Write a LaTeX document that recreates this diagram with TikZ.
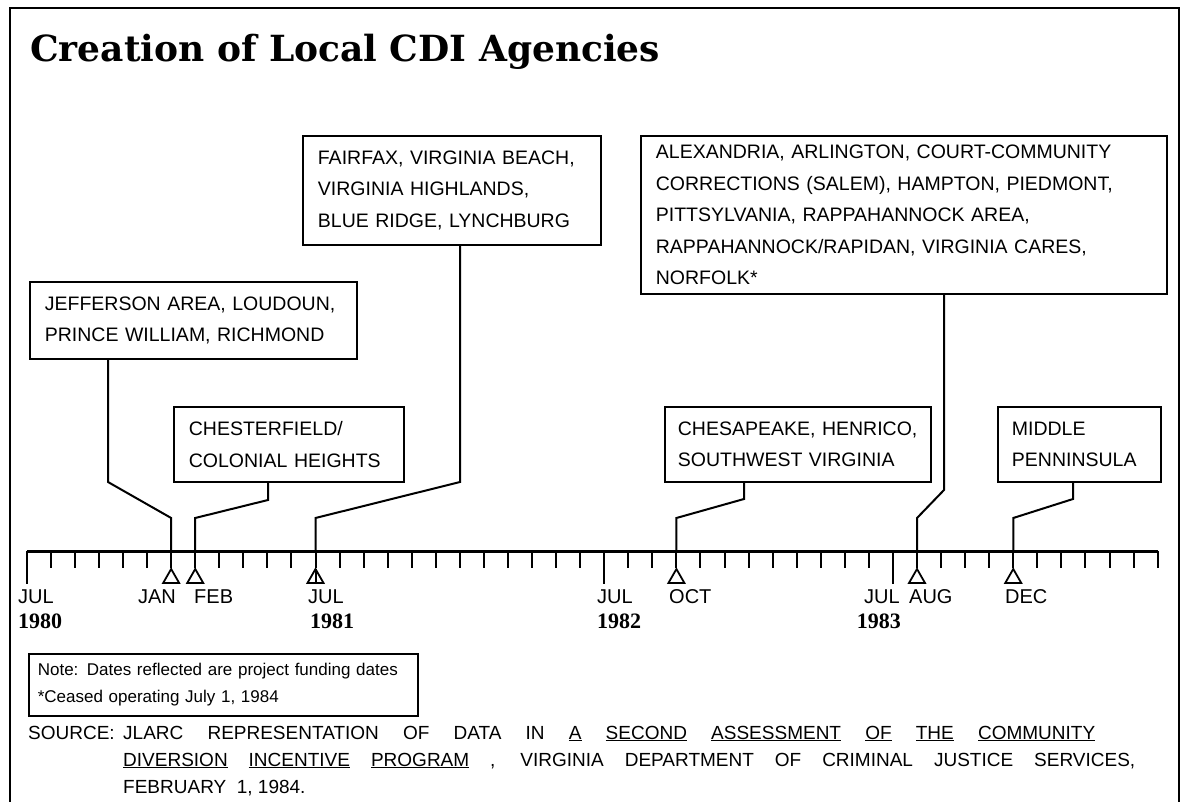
\documentclass[tikz,border=0pt]{standalone}
\usepackage{fontspec}
\setmainfont{Liberation Sans}
\newfontfamily\titlefont{DejaVu Serif}
\newfontfamily\yearfont{Liberation Serif}
\begin{document}
\begin{tikzpicture}[x=1pt,y=-1pt,
  abox/.style={draw,line width=1.8pt,anchor=north west,align=left,inner xsep=15pt,inner ysep=0pt,font=\fontsize{19.5}{31.5}\selectfont},
  conn/.style={line width=2pt},
  tickmark/.style={line width=2pt},
  tri/.style={line width=1.8pt,fill=white},
  mlab/.style={anchor=base west,inner sep=0pt,font=\fontsize{20}{24}\selectfont},
  mlabr/.style={anchor=base east,inner sep=0pt,font=\fontsize{20}{24}\selectfont},
  ylab/.style={anchor=base west,inner sep=0pt,font=\yearfont\bfseries\fontsize{22}{26}\selectfont},
  ylabr/.style={anchor=base east,inner sep=0pt,font=\yearfont\bfseries\fontsize{22}{26}\selectfont},
  src/.style={anchor=base west,inner sep=0pt,font=\fontsize{19}{22}\selectfont},
]
\useasboundingbox (0,0) rectangle (1186,802);
\draw[line width=2.5pt] (10,802) -- (10,8) -- (1179,8) -- (1179,802);
\node[anchor=base west,inner sep=0pt,font=\titlefont\bfseries\fontsize{36}{40}\selectfont] (title) at (30,62) {Creation of Local CDI Agencies};

% boxes
\node[abox,text width=268pt,minimum height=109pt] (fair) at (302,135) {FAIRFAX, VIRGINIA BEACH,\\VIRGINIA HIGHLANDS,\\BLUE RIDGE, LYNCHBURG};
\node[abox,text width=496pt,minimum height=158pt] (alex) at (640,135) {ALEXANDRIA, ARLINGTON, COURT-COMMUNITY\\CORRECTIONS (SALEM), HAMPTON, PIEDMONT,\\PITTSYLVANIA, RAPPAHANNOCK AREA,\\RAPPAHANNOCK/RAPIDAN, VIRGINIA CARES,\\NORFOLK{*}};
\node[abox,text width=297pt,minimum height=77pt] (jeff) at (29,281) {JEFFERSON AREA, LOUDOUN,\\PRINCE WILLIAM, RICHMOND};
\node[abox,text width=200pt,minimum height=75pt] (ches) at (173,406) {CHESTERFIELD/\\COLONIAL HEIGHTS};
\node[abox,inner xsep=13pt,text width=240pt,minimum height=75pt] (chsp) at (664,406) {CHESAPEAKE, HENRICO,\\SOUTHWEST VIRGINIA};
\node[abox,inner xsep=14pt,text width=135pt,minimum height=75pt] (midp) at (997,406) {MIDDLE\\PENNINSULA};

% axis
\def\xo{26.8}
\def\ms{24.06}
\coordinate (a0) at (\xo,551);
\coordinate (a47) at ({\xo+47*\ms},551);
\draw[line width=3pt] (a0) -- (a47);
\foreach \m in {0,...,47} \draw[tickmark] ({\xo+\m*\ms},551) -- ++(0,17);
\foreach \m in {0,24,36} \draw[tickmark] ({\xo+\m*\ms},551) -- ++(0,33);
\foreach \m in {6,7,12,27,37,41} \draw[tri] ({\xo+\m*\ms},569) -- ++(-8,14) -- ++(16,0) -- cycle;
\draw[tickmark] ({\xo+12*\ms},569) -- ++(0,14);

\coordinate (tjan) at ({\xo+6*\ms},551);
\coordinate (tfeb) at ({\xo+7*\ms},551);
\coordinate (tjul) at ({\xo+12*\ms},551);
\coordinate (toct) at ({\xo+27*\ms},551);
\coordinate (taug) at ({\xo+37*\ms},551);
\coordinate (tdec) at ({\xo+41*\ms},551);

% connectors
\coordinate (jb) at (108,482); \coordinate (jd) at ({\xo+6*\ms},518);
\draw[conn] (jeff.south -| jb) -- (jb) -- (jd) -- (tjan);
\coordinate (cb) at (268,500); \coordinate (cd) at ({\xo+7*\ms},518);
\draw[conn] (ches.south -| cb) -- (cb) -- (cd) -- (tfeb);
\coordinate (fb) at (460,482); \coordinate (fd) at ({\xo+12*\ms},518);
\draw[conn] (fair.south -| fb) -- (fb) -- (fd) -- (tjul);
\coordinate (kb) at (744,499); \coordinate (kd) at ({\xo+27*\ms},518);
\draw[conn] (chsp.south -| kb) -- (kb) -- (kd) -- (toct);
\coordinate (ab) at (944,490); \coordinate (ad) at ({\xo+37*\ms},518);
\draw[conn] (alex.south -| ab) -- (ab) -- (ad) -- (taug);
\coordinate (mb) at (1073,499); \coordinate (md) at ({\xo+41*\ms},518);
\draw[conn] (midp.south -| mb) -- (mb) -- (md) -- (tdec);

% labels
\node[mlab] (l1) at (18,603) {JUL};
\node[mlabr] (l2) at (176,603) {JAN};
\node[mlab] (l3) at (194,603) {FEB};
\node[mlab] (l4) at (308,603) {JUL};
\node[mlab] (l5) at (597,603) {JUL};
\node[mlab] (l6) at (669,603) {OCT};
\node[mlabr] (l7) at (900,603) {JUL};
\node[mlab] (l8) at (909,603) {AUG};
\node[mlab] (l9) at (1005,603) {DEC};
\node[ylab] (y1) at (18,628) {1980};
\node[ylab] (y2) at (310,628) {1981};
\node[ylab] (y3) at (597,628) {1982};
\node[ylabr] (y4) at (901,628) {1983};

% note
\node[draw,line width=1.6pt,anchor=north west,align=left,inner xsep=9pt,inner ysep=0pt,minimum height=62pt,text width=371pt,font=\fontsize{17}{27.5}\selectfont] (note) at (28,653) {Note: Dates reflected are project funding dates\\{*}Ceased operating July 1, 1984};

% source
\node[src] (s0) at (28,739) {SOURCE:};
\node[src] (s1) at (123,739) {\makebox[972pt][s]{JLARC REPRESENTATION OF DATA IN \underline{A} \underline{SECOND} \underline{ASSESSMENT} \underline{OF} \underline{THE} \underline{COMMUNITY}}};
\node[src] (s2) at (123,766) {\makebox[1012pt][s]{\underline{DIVERSION} \underline{INCENTIVE} \underline{PROGRAM} , VIRGINIA DEPARTMENT OF CRIMINAL JUSTICE SERVICES,}};
\node[src] (s3) at (123,793) {FEBRUARY\ \ 1, 1984.};
\end{tikzpicture}
\end{document}
